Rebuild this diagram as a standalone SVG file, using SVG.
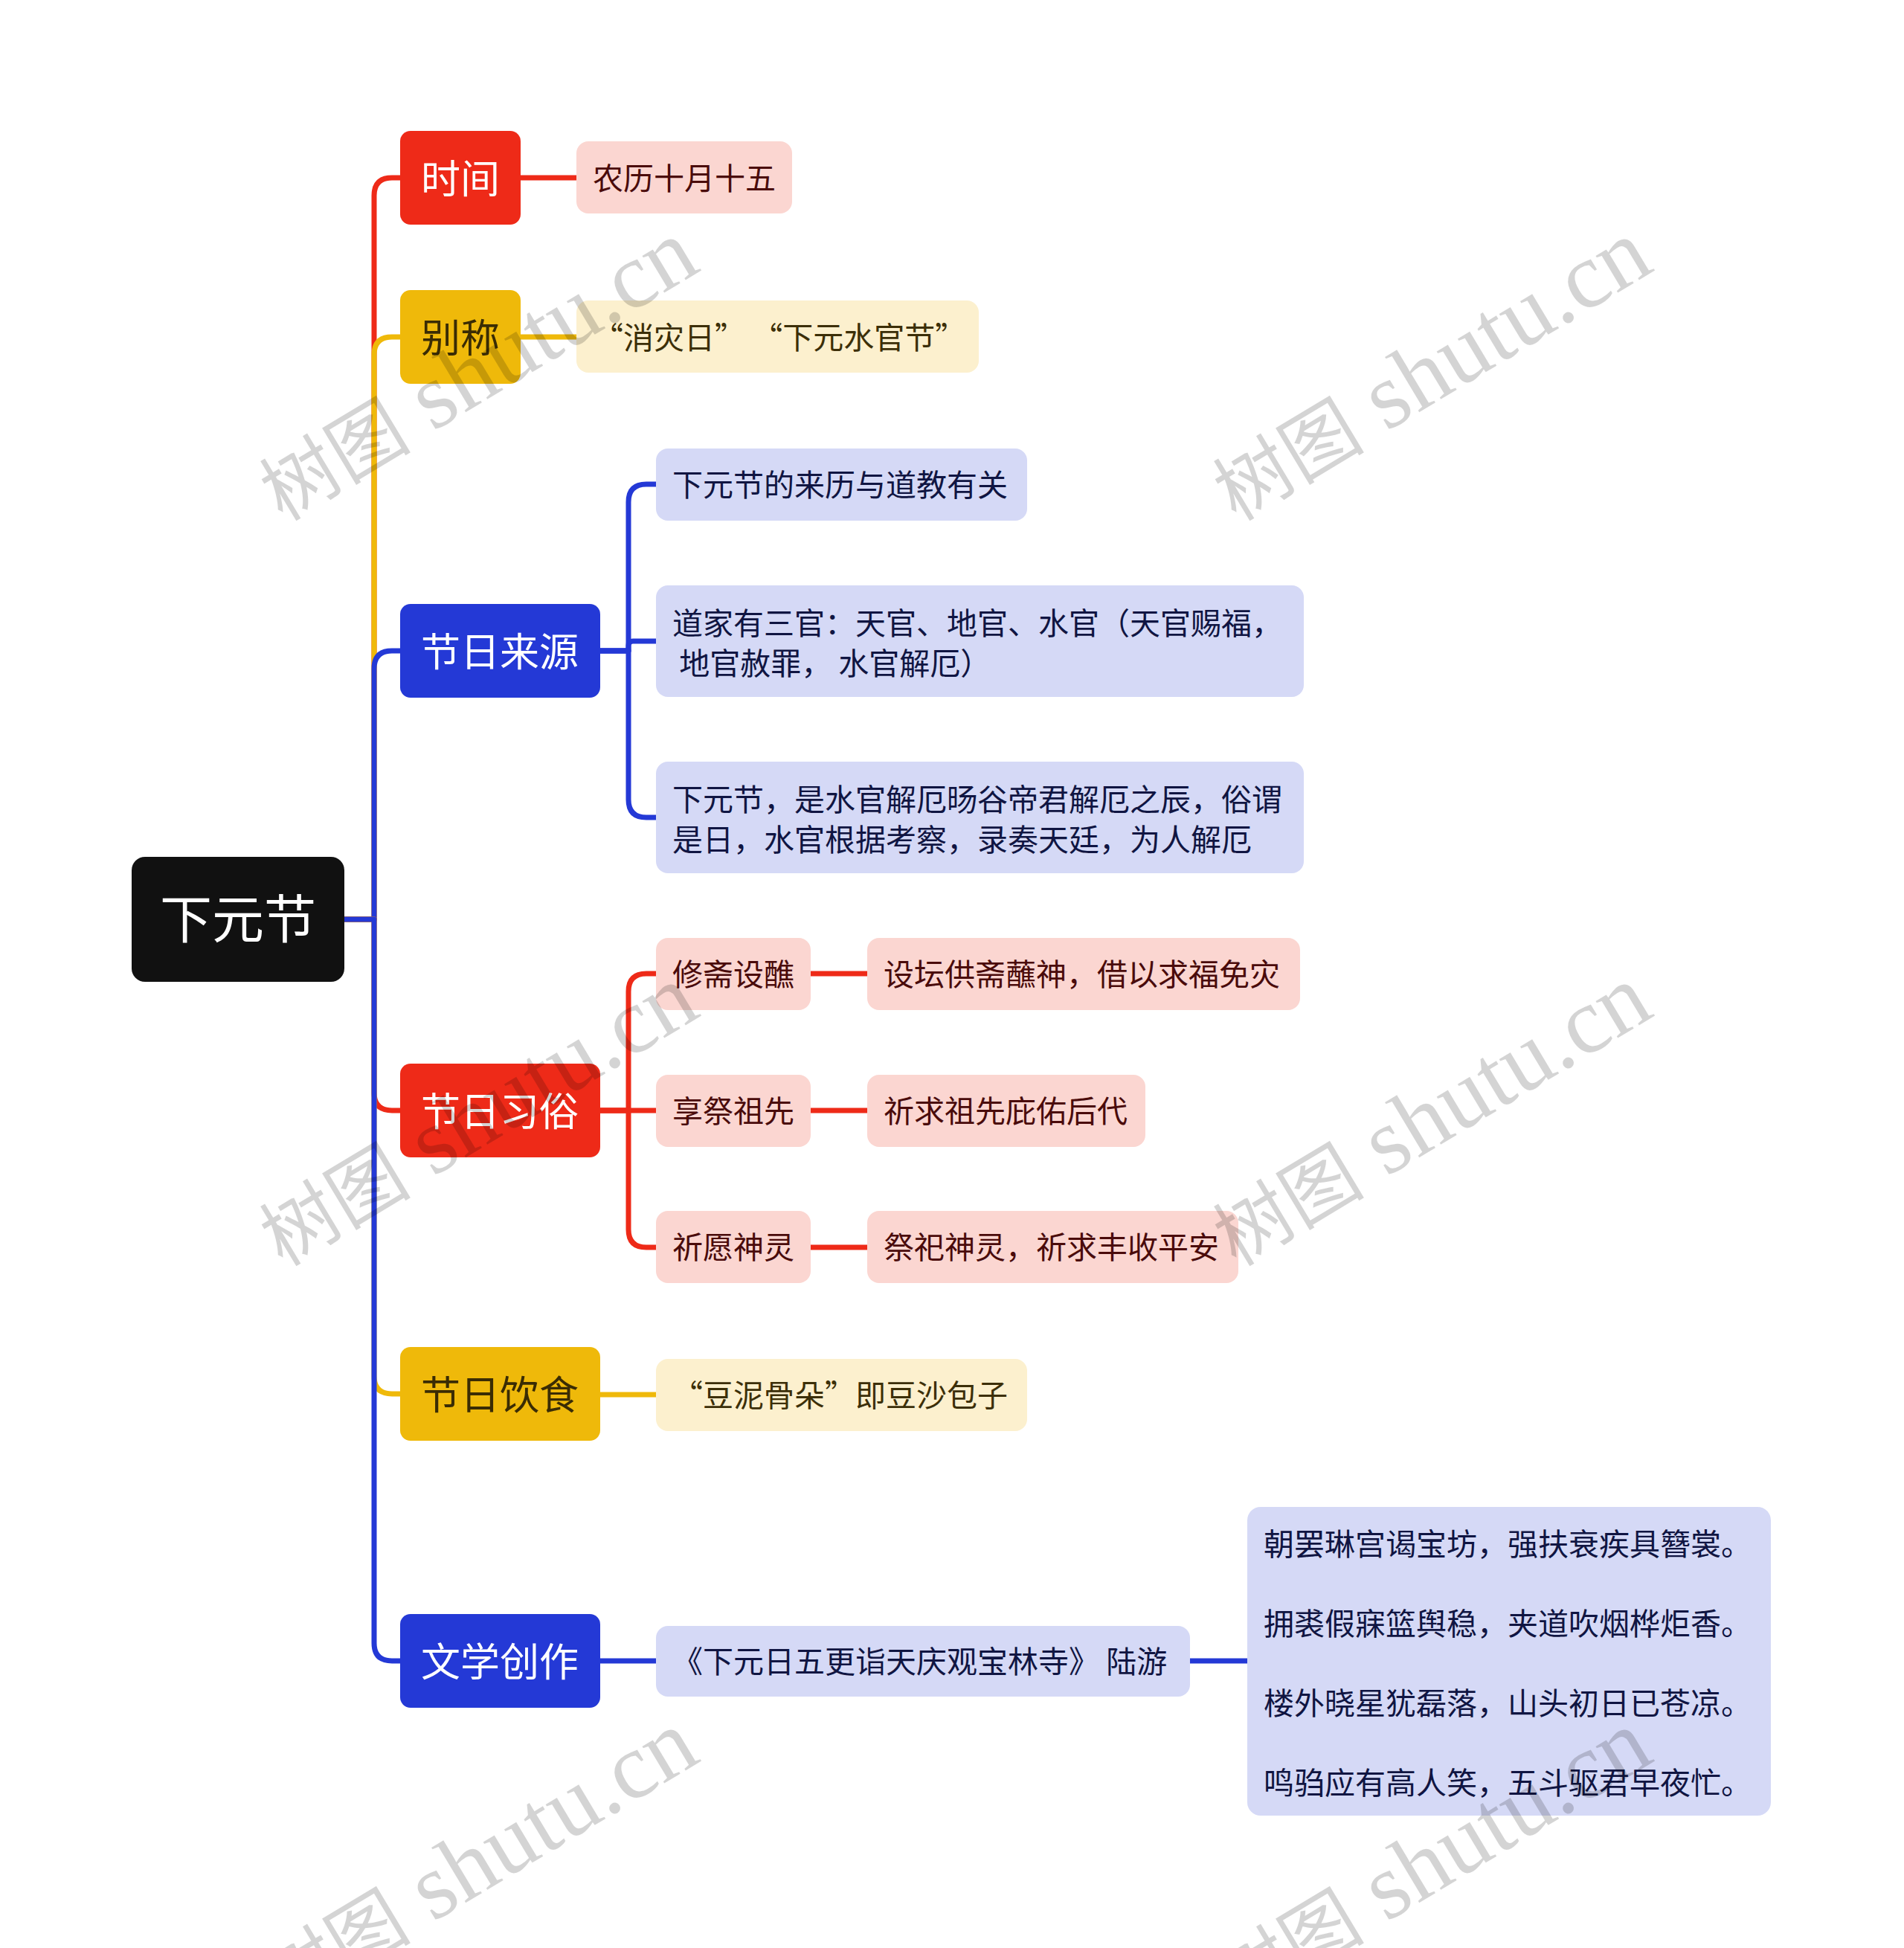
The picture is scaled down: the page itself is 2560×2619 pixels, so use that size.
<svg xmlns="http://www.w3.org/2000/svg" width="2560" height="2619" viewBox="0 0 2560 2619">
<style>
text{font-family:"Noto Sans CJK SC","Noto Sans",sans-serif;}
.c{fill:none;stroke-width:7;stroke-linejoin:round}
.cr{stroke:#EE2A18}.cy{stroke:#EFB90A}.cb{stroke:#2439D6}
.root{fill:#111111}
.l1r{fill:#EE2A18}.l1y{fill:#EFB90A}.l1b{fill:#2439D6}
.l2r{fill:#FBD6D1}.l2y{fill:#FCF0CE}.l2b{fill:#D5D9F6}
.t0{fill:#ffffff;font-size:70px}
.t1{font-size:53px;fill:#ffffff}
.t1y{font-size:53px;fill:#3A2C04}
.t2{font-size:41px}
.tr{fill:#4A0B0B}.ty{fill:#3C2F08}.tb{fill:#101542}
.wm{font-family:"Liberation Serif","Noto Sans CJK SC",serif;font-size:126px;fill:#000000;fill-opacity:0.17}
.wm .cj{font-size:102px}
</style>
<rect width="2560" height="2619" fill="#ffffff"/>
<g id="connectors">
<path class="c cr" d="M463,1236 H503 V263 Q503,239 527,239 H538"/>
<path class="c cy" d="M463,1236 H503 V477 Q503,453 527,453 H538"/>
<path class="c cb" d="M463,1236 H503 V899 Q503,875 527,875 H538"/>
<path class="c cr" d="M463,1236 H503 V1469 Q503,1493 527,1493 H538"/>
<path class="c cy" d="M463,1236 H503 V1850 Q503,1874 527,1874 H538"/>
<path class="c cb" d="M463,1236 H503 V2209 Q503,2233 527,2233 H538"/>
<path class="c cr" d="M700,239 H775"/>
<path class="c cy" d="M700,453 H775"/>
<path class="c cb" d="M807,875 H845 V675 Q845,651 869,651 H882"/>
<path class="c cb" d="M807,875 H845 V868 Q845,862 851,862 H882"/>
<path class="c cb" d="M807,875 H845 V1075 Q845,1099 869,1099 H882"/>
<path class="c cr" d="M807,1493 H845 V1333 Q845,1309 869,1309 H882"/>
<path class="c cr" d="M807,1493 H882"/>
<path class="c cr" d="M807,1493 H845 V1653 Q845,1677 869,1677 H882"/>
<path class="c cr" d="M1090,1309 H1166"/>
<path class="c cr" d="M1090,1493 H1166"/>
<path class="c cr" d="M1090,1677 H1166"/>
<path class="c cy" d="M807,1875 H882"/>
<path class="c cb" d="M807,2233 H882"/>
<path class="c cb" d="M1600,2233 H1677"/>
</g>
<g id="root">
<rect class="root" x="177" y="1152" width="286" height="168" rx="18"/>
<text class="t0" x="320" y="1231" text-anchor="middle" dominant-baseline="central">下元节</text>
</g>
<g id="n-shijian">
<rect class="l1r" x="538" y="176" width="162" height="126" rx="14"/>
<text class="t1" x="619" y="237" text-anchor="middle" dominant-baseline="central">时间</text>
</g>
<g id="n-shijian-1">
<rect class="l2r" x="775" y="190" width="290" height="97" rx="16"/>
<text class="t2 tr" x="797" y="237" dominant-baseline="central">农历十月十五</text>
</g>
<g id="n-biecheng">
<rect class="l1y" x="538" y="390" width="162" height="126" rx="14"/>
<text class="t1y" x="619" y="451" text-anchor="middle" dominant-baseline="central">别称</text>
</g>
<g id="n-biecheng-1">
<rect class="l2y" x="775" y="404" width="541" height="97" rx="16"/>
<text class="t2 ty" x="797" y="451" dominant-baseline="central" xml:space="preserve">“消灾日” “下元水官节”</text>
</g>
<g id="n-laiyuan">
<rect class="l1b" x="538" y="812" width="269" height="126" rx="14"/>
<text class="t1" x="672" y="873" text-anchor="middle" dominant-baseline="central">节日来源</text>
</g>
<g id="n-laiyuan-1">
<rect class="l2b" x="882" y="603" width="499" height="97" rx="16"/>
<text class="t2 tb" x="904" y="649" dominant-baseline="central">下元节的来历与道教有关</text>
</g>
<g id="n-laiyuan-2">
<rect class="l2b" x="882" y="787" width="871" height="150" rx="16"/>
<text class="t2 tb" x="904" y="835" dominant-baseline="central">道家有三官：天官、地官、水官（天官赐福，</text>
<text class="t2 tb" x="904" y="889" dominant-baseline="central" xml:space="preserve"> 地官赦罪， 水官解厄）</text>
</g>
<g id="n-laiyuan-3">
<rect class="l2b" x="882" y="1024" width="871" height="150" rx="16"/>
<text class="t2 tb" x="904" y="1072" dominant-baseline="central">下元节，是水官解厄旸谷帝君解厄之辰，俗谓</text>
<text class="t2 tb" x="904" y="1126" dominant-baseline="central">是日，水官根据考察，录奏天廷，为人解厄</text>
</g>
<g id="n-xisu">
<rect class="l1r" x="538" y="1430" width="269" height="126" rx="14"/>
<text class="t1" x="672" y="1491" text-anchor="middle" dominant-baseline="central">节日习俗</text>
</g>
<g id="n-xisu-1">
<rect class="l2r" x="882" y="1261" width="208" height="97" rx="16"/>
<text class="t2 tr" x="904" y="1307" dominant-baseline="central">修斋设醮</text>
</g>
<g id="n-xisu-1-1">
<rect class="l2r" x="1166" y="1261" width="582" height="97" rx="16"/>
<text class="t2 tr" x="1188" y="1307" dominant-baseline="central">设坛供斋蘸神，借以求福免灾</text>
</g>
<g id="n-xisu-2">
<rect class="l2r" x="882" y="1445" width="208" height="97" rx="16"/>
<text class="t2 tr" x="904" y="1491" dominant-baseline="central">享祭祖先</text>
</g>
<g id="n-xisu-2-1">
<rect class="l2r" x="1166" y="1445" width="374" height="97" rx="16"/>
<text class="t2 tr" x="1188" y="1491" dominant-baseline="central">祈求祖先庇佑后代</text>
</g>
<g id="n-xisu-3">
<rect class="l2r" x="882" y="1628" width="208" height="97" rx="16"/>
<text class="t2 tr" x="904" y="1674" dominant-baseline="central">祈愿神灵</text>
</g>
<g id="n-xisu-3-1">
<rect class="l2r" x="1166" y="1628" width="499" height="97" rx="16"/>
<text class="t2 tr" x="1188" y="1674" dominant-baseline="central">祭祀神灵，祈求丰收平安</text>
</g>
<g id="n-yinshi">
<rect class="l1y" x="538" y="1811" width="269" height="126" rx="14"/>
<text class="t1y" x="672" y="1872" text-anchor="middle" dominant-baseline="central">节日饮食</text>
</g>
<g id="n-yinshi-1">
<rect class="l2y" x="882" y="1827" width="499" height="97" rx="16"/>
<text class="t2 ty" x="904" y="1873" dominant-baseline="central">“豆泥骨朵”即豆沙包子</text>
</g>
<g id="n-wenxue">
<rect class="l1b" x="538" y="2170" width="269" height="126" rx="14"/>
<text class="t1" x="672" y="2231" text-anchor="middle" dominant-baseline="central">文学创作</text>
</g>
<g id="n-wenxue-1">
<rect class="l2b" x="882" y="2186" width="718" height="95" rx="16"/>
<text class="t2 tb" x="904" y="2231" dominant-baseline="central" xml:space="preserve">《下元日五更诣天庆观宝林寺》 陆游</text>
</g>
<g id="n-wenxue-1-1">
<rect class="l2b" x="1677" y="2026" width="704" height="415" rx="18"/>
<text class="t2 tb" x="1699" y="2073" dominant-baseline="central">朝罢琳宫谒宝坊，强扶衰疾具簪裳。</text>
<text class="t2 tb" x="1699" y="2180" dominant-baseline="central">拥裘假寐篮舆稳，夹道吹烟桦炬香。</text>
<text class="t2 tb" x="1699" y="2287" dominant-baseline="central">楼外晓星犹磊落，山头初日已苍凉。</text>
<text class="t2 tb" x="1699" y="2394" dominant-baseline="central">鸣驺应有高人笑，五斗驱君早夜忙。</text>
</g>
<g id="watermarks">
<text class="wm" transform="translate(380,702) rotate(-31)"><tspan class="cj">树图</tspan> shutu.cn</text>
<text class="wm" transform="translate(1662,702) rotate(-31)"><tspan class="cj">树图</tspan> shutu.cn</text>
<text class="wm" transform="translate(380,1704) rotate(-31)"><tspan class="cj">树图</tspan> shutu.cn</text>
<text class="wm" transform="translate(1662,1704) rotate(-31)"><tspan class="cj">树图</tspan> shutu.cn</text>
<text class="wm" transform="translate(380,2706) rotate(-31)"><tspan class="cj">树图</tspan> shutu.cn</text>
<text class="wm" transform="translate(1662,2706) rotate(-31)"><tspan class="cj">树图</tspan> shutu.cn</text>
</g>
</svg>
